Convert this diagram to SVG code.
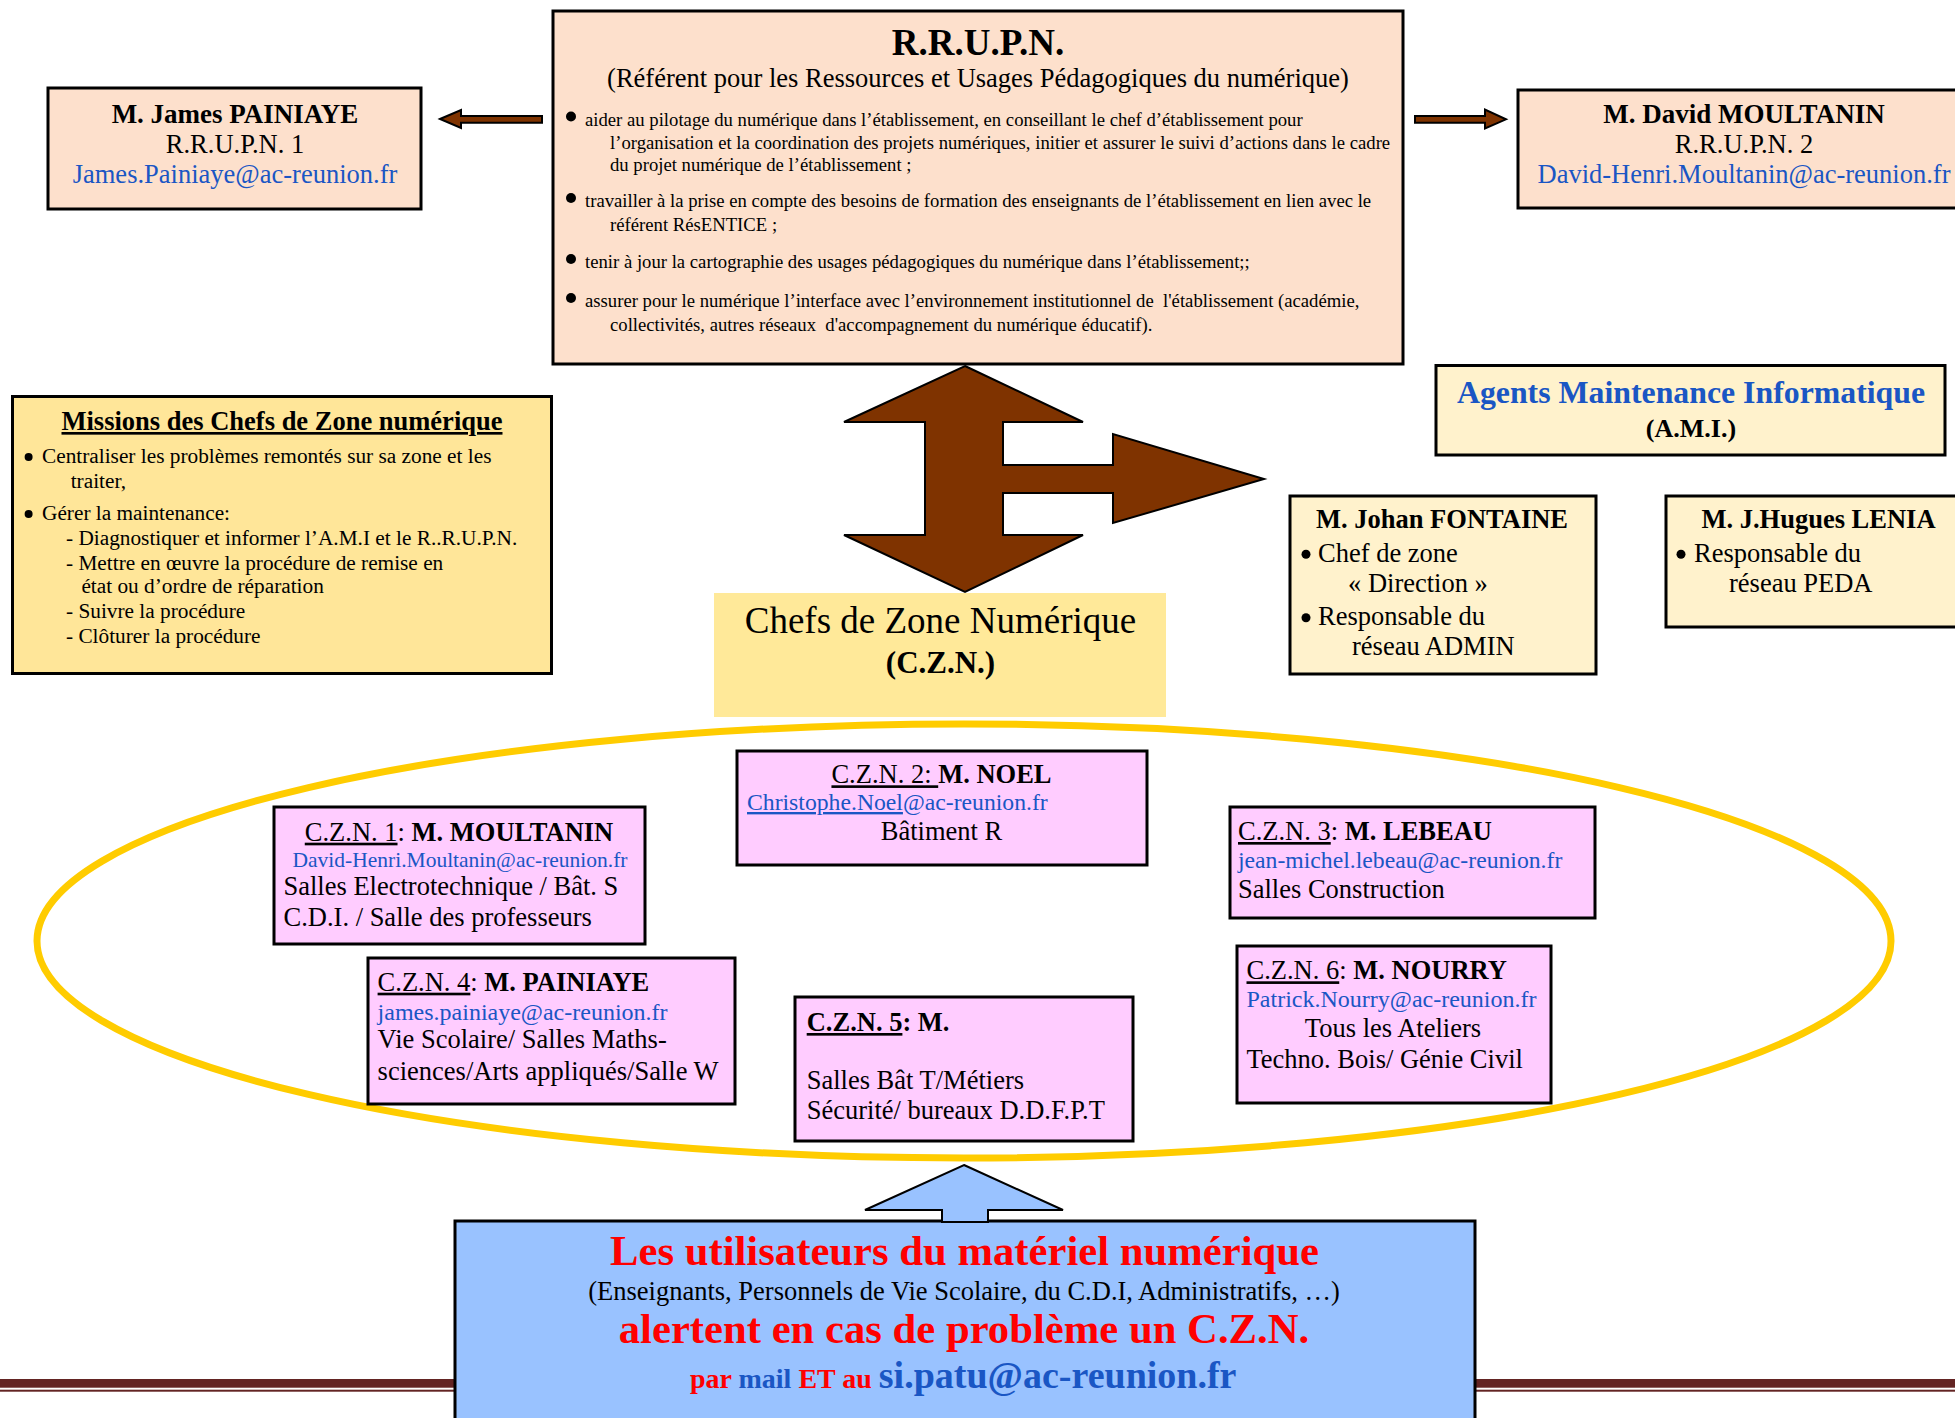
<svg xmlns="http://www.w3.org/2000/svg" width="1955" height="1418" viewBox="0 0 1955 1418">
<defs>
<style>
text{font-family:"Liberation Serif","Times New Roman",serif;fill:#000}
.b{font-weight:bold}
.m{text-anchor:middle}
.box{stroke:#000;stroke-width:3}
.peach{fill:#fde0cc}
.pink{fill:#ffccff}
.gold{fill:#ffe699}
.cream{fill:#fff2cc}
.bl{fill:#1a56c4}
.rd{fill:#ff0000}
.u{text-decoration:underline}
.arr{fill:#7f3300;stroke:#000;stroke-width:2}
.f26{font-size:26.5px}
.f27{font-size:27px}
.f21{font-size:21.3px}
.f18{font-size:18.7px}
</style>
</defs>
<rect x="0" y="0" width="1955" height="1418" fill="#fff"/>
<g id="footer-rule">
<rect x="0" y="1379" width="1955" height="8.7" fill="#632423"/>
<rect x="0" y="1389.7" width="1955" height="2" fill="#632423"/>
</g>
<g id="czn-ellipse">
<ellipse cx="964" cy="941" rx="927" ry="217" fill="none" stroke="#ffcc00" stroke-width="7"/>
</g>
<g id="rrupn">
<rect class="box peach" x="553" y="11" width="850" height="353"/>
<text class="b m" x="978" y="55" font-size="37">R.R.U.P.N.</text>
<text class="m" x="978" y="87" font-size="26.5">(Référent pour les Ressources et Usages Pédagogiques du numérique)</text>
<circle cx="571" cy="116.5" r="5"/>
<text class="f18" x="585" y="126">aider au pilotage du numérique dans l’établissement, en conseillant le chef d’établissement pour</text>
<text class="f18" x="610" y="149.3">l’organisation et la coordination des projets numériques, initier et assurer le suivi d’actions dans le cadre</text>
<text class="f18" x="610" y="170.7">du projet numérique de l’établissement ;</text>
<circle cx="571" cy="198" r="5"/>
<text class="f18" x="585" y="207.3">travailler à la prise en compte des besoins de formation des enseignants de l’établissement en lien avec le</text>
<text class="f18" x="610" y="231">référent RésENTICE ;</text>
<circle cx="571" cy="259" r="5"/>
<text class="f18" x="585" y="268.3">tenir à jour la cartographie des usages pédagogiques du numérique dans l’établissement;;</text>
<circle cx="571" cy="298" r="5"/>
<text class="f18" x="585" y="307.3" xml:space="preserve">assurer pour le numérique l’interface avec l’environnement institutionnel de  l'établissement (académie,</text>
<text class="f18" x="610" y="331" xml:space="preserve">collectivités, autres réseaux  d'accompagnement du numérique éducatif).</text>
</g>
<g id="rrupn1">
<rect class="box peach" x="48" y="88" width="373" height="121"/>
<text class="b m f27" x="235" y="123.3">M. James PAINIAYE</text>
<text class="m f26" x="235" y="152.7">R.R.U.P.N. 1</text>
<text class="m f26 bl" x="235" y="183.3">James.Painiaye@ac-reunion.fr</text>
</g>
<g id="rrupn2">
<rect class="box peach" x="1518" y="90" width="450" height="118"/>
<text class="b m f27" x="1744" y="123.3">M. David MOULTANIN</text>
<text class="m f26" x="1744" y="153.3">R.R.U.P.N. 2</text>
<text class="m f26 bl" x="1744" y="183.3">David-Henri.Moultanin@ac-reunion.fr</text>
</g>
<g id="missions">
<rect class="box gold" x="12.5" y="396.5" width="539" height="277"/>
<text class="b m u f26" x="282" y="430">Missions des Chefs de Zone numérique</text>
<circle cx="28.6" cy="457" r="4"/>
<text class="f21" x="42" y="463.3">Centraliser les problèmes remontés sur sa zone et les</text>
<text class="f21" x="70.7" y="488.3">traiter,</text>
<circle cx="28.6" cy="514" r="4"/>
<text class="f21" x="42" y="520">Gérer la maintenance:</text>
<text class="f21" x="66" y="545">- Diagnostiquer et informer l’A.M.I et le R..R.U.P.N.</text>
<text class="f21" x="66" y="570">- Mettre en œuvre la procédure de remise en</text>
<text class="f21" x="81.4" y="593.3">état ou d’ordre de réparation</text>
<text class="f21" x="66" y="618.3">- Suivre la procédure</text>
<text class="f21" x="66" y="643.3">- Clôturer la procédure</text>
</g>
<g id="ami">
<rect class="box cream" x="1436" y="365.5" width="509" height="89.5"/>
<text class="b m bl" x="1691" y="403.3" font-size="31.8">Agents Maintenance Informatique</text>
<text class="b m" x="1691" y="436.7" font-size="26">(A.M.I.)</text>
</g>
<g id="ami-fontaine">
<rect class="box cream" x="1290" y="496" width="306" height="178"/>
<text class="b m f26" x="1442" y="528.3">M. Johan FONTAINE</text>
<circle cx="1306" cy="554.3" r="4.5"/>
<text class="f26" x="1318" y="561.7">Chef de zone</text>
<text class="f26" x="1348" y="591.7">« Direction »</text>
<circle cx="1306" cy="617.7" r="4.5"/>
<text class="f26" x="1318" y="625">Responsable du</text>
<text class="f26" x="1352" y="655">réseau ADMIN</text>
</g>
<g id="ami-lenia">
<rect class="box cream" x="1666" y="496" width="300" height="131"/>
<text class="b m f26" x="1818.5" y="528.3">M. J.Hugues LENIA</text>
<circle cx="1681" cy="554.3" r="4.5"/>
<text class="f26" x="1694" y="561.7">Responsable du</text>
<text class="f26" x="1729" y="591.7">réseau PEDA</text>
</g>
<g id="czn-label">
<rect x="714" y="593" width="452" height="124" fill="#ffe999"/>
<text class="m" x="940.5" y="633.3" font-size="37">Chefs de Zone Numérique</text>
<text class="b m" x="940.5" y="673.3" font-size="31">(C.Z.N.)</text>
</g>
<g id="czn1">
<rect class="box pink" x="274" y="807" width="371" height="137"/>
<text class="m f26" x="459" y="840.7"><tspan class="u">C.Z.N. 1</tspan>: <tspan class="b">M. MOULTANIN</tspan></text>
<text class="m bl" x="460" y="866.7" font-size="21.5">David-Henri.Moultanin@ac-reunion.fr</text>
<text class="f26" x="283.5" y="895">Salles Electrotechnique / Bât. S</text>
<text class="f26" x="283.5" y="926">C.D.I. / Salle des professeurs</text>
</g>
<g id="czn2">
<rect class="box pink" x="737" y="751" width="410" height="114"/>
<text class="m f26" x="941.5" y="783.3"><tspan class="u" xml:space="preserve">C.Z.N. 2: </tspan><tspan class="b">M. NOEL</tspan></text>
<text class="bl" x="747" y="810" font-size="23.7"><tspan class="u">Christophe.Noel</tspan>@ac-reunion.fr</text>
<text class="m f26" x="941.5" y="840">Bâtiment R</text>
</g>
<g id="czn3">
<rect class="box pink" x="1230" y="807" width="365" height="111"/>
<text class="f26" x="1238" y="840"><tspan class="u">C.Z.N. 3</tspan>: <tspan class="b">M. LEBEAU</tspan></text>
<text class="bl" x="1238" y="868.3" font-size="23.7">jean-michel.lebeau@ac-reunion.fr</text>
<text class="f26" x="1238" y="898.3">Salles Construction</text>
</g>
<g id="czn4">
<rect class="box pink" x="368" y="958" width="367" height="146"/>
<text class="f26" x="377.6" y="990.7"><tspan class="u">C.Z.N. 4</tspan>: <tspan class="b">M. PAINIAYE</tspan></text>
<text class="bl" x="377.6" y="1020" font-size="24">james.painiaye@ac-reunion.fr</text>
<text class="f26" x="377.6" y="1048.3">Vie Scolaire/ Salles Maths-</text>
<text class="f26" x="377.6" y="1080">sciences/Arts appliqués/Salle W</text>
</g>
<g id="czn5">
<rect class="box pink" x="795" y="997" width="338" height="144"/>
<text class="b f26" x="806.7" y="1031"><tspan class="u">C.Z.N. 5</tspan>: M.</text>
<text class="f26" x="806.7" y="1089.3">Salles Bât T/Métiers</text>
<text class="f26" x="806.7" y="1119.3">Sécurité/ bureaux D.D.F.P.T</text>
</g>
<g id="czn6">
<rect class="box pink" x="1237" y="946" width="314" height="157"/>
<text class="f26" x="1246.5" y="979.3"><tspan class="u">C.Z.N. 6</tspan>: <tspan class="b">M. NOURRY</tspan></text>
<text class="bl" x="1246.5" y="1006.7" font-size="24">Patrick.Nourry@ac-reunion.fr</text>
<text class="m f26" x="1393" y="1036.7">Tous les Ateliers</text>
<text class="f26" x="1246.5" y="1068.3">Techno. Bois/ Génie Civil</text>
</g>
<g id="users">
<rect class="box" x="455" y="1221" width="1020" height="215" fill="#99c2ff"/>
<text class="b m rd" x="964.5" y="1265" font-size="42.7">Les utilisateurs du matériel numérique</text>
<text class="m f26" x="964" y="1300">(Enseignants, Personnels de Vie Scolaire, du C.D.I, Administratifs, …)</text>
<text class="b m rd" x="964" y="1343.3" font-size="42.7">alertent en cas de problème un C.Z.N.</text>
<text class="b" x="690" y="1388.3" font-size="28"><tspan class="rd">par </tspan><tspan class="bl">mail </tspan><tspan class="rd">ET au </tspan><tspan class="bl" font-size="38">si.patu@ac-reunion.fr</tspan></text>
</g>
<g id="connectors">
<polygon class="arr" points="440,119 461,110 461,116 542,116 542,122.7 461,122.7 461,128"/>
<polygon class="arr" points="1415,116 1485,116 1485,109.5 1506,119.3 1485,128.5 1485,122.7 1415,122.7"/>
<polygon class="arr" points="965,366 1083,422 1003,422 1003,465 1113,465 1113,434 1264,479 1113,523 1113,493 1003,493 1003,535 1083,535 965,592 844,535 925,535 925,422 844,422"/>
<polygon points="964,1165 1063,1210 988,1210 988,1222 942,1222 942,1210 865,1210" fill="#99c2ff" stroke="#000" stroke-width="2"/>
</g>
</svg>
